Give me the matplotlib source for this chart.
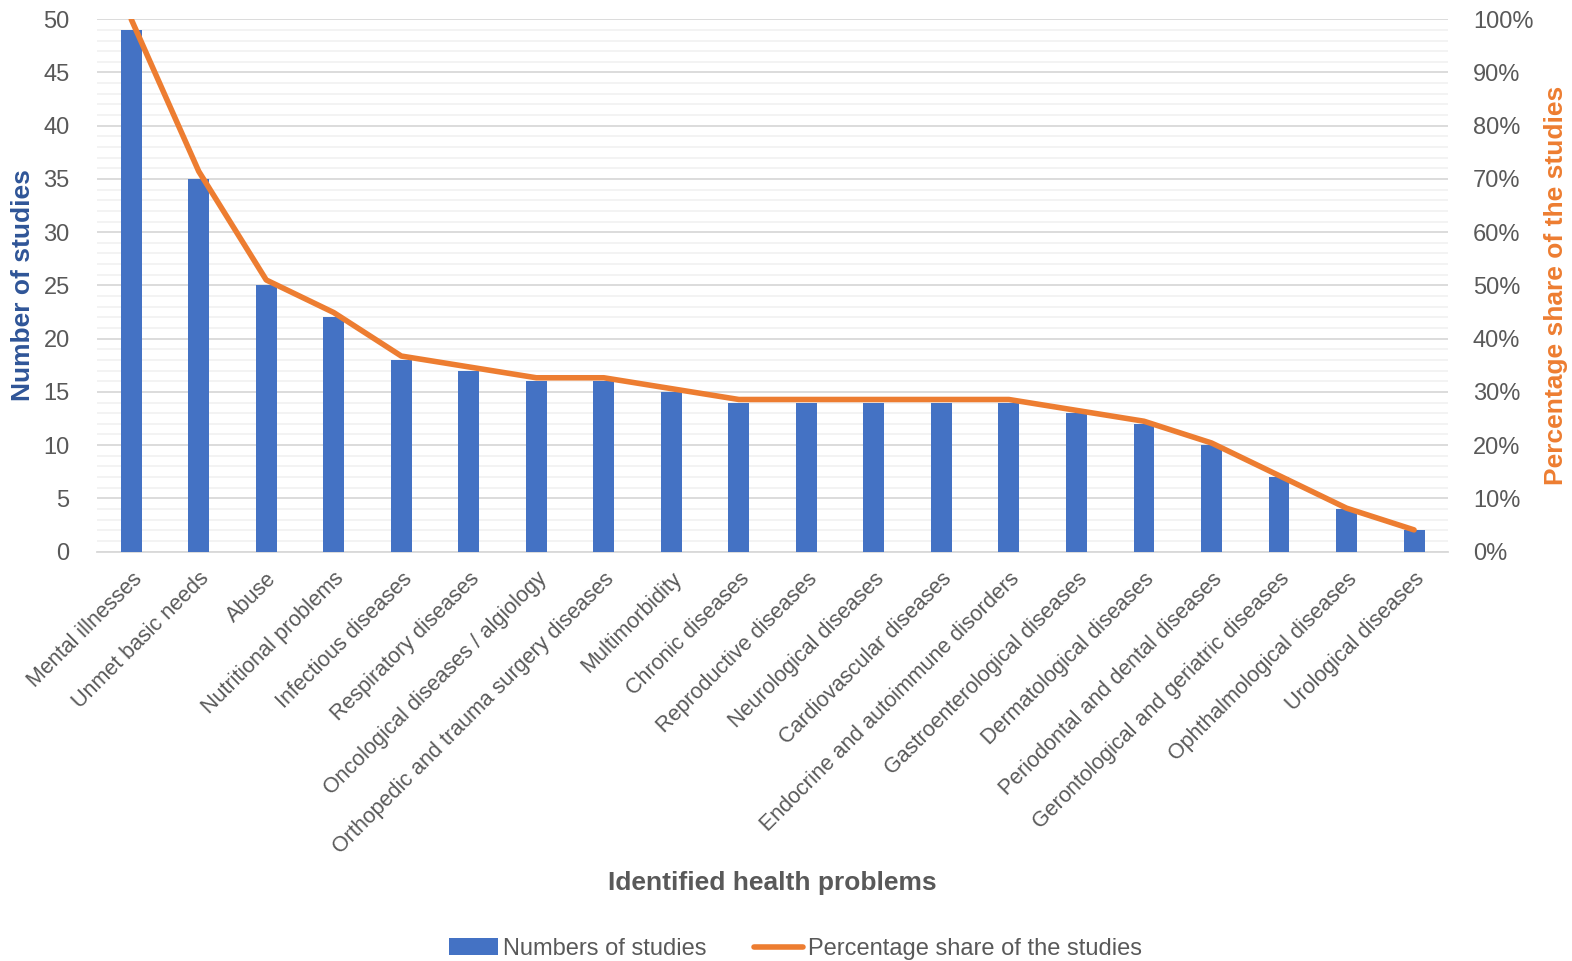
import matplotlib.pyplot as plt
from matplotlib.ticker import MultipleLocator, PercentFormatter

plt.rcParams['font.family'] = ['Liberation Sans', 'DejaVu Sans']

problems = [
    "Mental illnesses", "Unmet basic needs", "Abuse", "Nutritional problems",
    "Infectious diseases", "Respiratory diseases",
    "Oncological diseases / algiology",
    "Orthopedic and trauma surgery diseases", "Multimorbidity",
    "Chronic diseases", "Reproductive diseases", "Neurological diseases",
    "Cardiovascular diseases", "Endocrine and autoimmune disorders",
    "Gastroenterological diseases", "Dermatological diseases",
    "Periodontal and dental diseases", "Gerontological and geriatric diseases",
    "Ophthalmological diseases", "Urological diseases",
]
studies = [49, 35, 25, 22, 18, 17, 16, 16, 15, 14, 14, 14, 14, 14, 13, 12, 10, 7, 4, 2]
# share relative to the most studied problem
share = [s / max(studies) * 100 for s in studies]

GRAY = "#595959"
BLUE = "#4472C4"
ORANGE = "#ED7D31"

fig, ax = plt.subplots(figsize=(15.72, 9.61), dpi=100)
fig.subplots_adjust(left=0.062, right=0.921, top=0.98, bottom=0.426)

x = range(len(problems))
bars = ax.bar(x, studies, width=0.31, color=BLUE, label="Numbers of studies", zorder=3)
ax.set_xlim(-0.5, len(problems) - 0.5)
ax.set_ylim(0, 50)
ax.yaxis.set_major_locator(MultipleLocator(5))
ax.yaxis.set_minor_locator(MultipleLocator(1))
ax.grid(axis="y", which="major", color="#D9D9D9", linewidth=1.3, zorder=0)
ax.grid(axis="y", which="minor", color="#F2F2F2", linewidth=1.3, zorder=0)
ax.tick_params(axis="y", which="both", length=0, labelsize=17, labelcolor=GRAY, pad=20)
ax.tick_params(axis="x", length=0, labelsize=15.5, labelcolor=GRAY, pad=12)
ax.set_xticks(list(x))
ax.set_xticklabels(problems, rotation=45, ha="right", rotation_mode="anchor")
for side in ["top", "left", "right"]:
    ax.spines[side].set_visible(False)
ax.spines["bottom"].set_color("#D9D9D9")
ax.spines["bottom"].set_linewidth(1.3)
ax.set_ylabel("Number of studies", fontsize=19, fontweight="bold", color="#2F5597", labelpad=6)
ax.set_xlabel("Identified health problems", fontsize=19, fontweight="bold", color=GRAY, labelpad=10)

ax2 = ax.twinx()
line, = ax2.plot(x, share, color=ORANGE, linewidth=4, solid_capstyle="round",
                 label="Percentage share of the studies", zorder=4)
ax2.set_ylim(0, 100)
ax2.yaxis.set_major_locator(MultipleLocator(10))
ax2.yaxis.set_major_formatter(PercentFormatter(decimals=0))
ax2.tick_params(axis="y", length=0, labelsize=17, labelcolor=GRAY, pad=18)
for side in ["top", "left", "right", "bottom"]:
    ax2.spines[side].set_visible(False)
ax2.set_ylabel("Percentage share of the studies", fontsize=19, fontweight="bold", color=ORANGE, labelpad=8)

fig.legend(handles=[bars, line], loc="lower center", bbox_to_anchor=(0.506, -0.021),
           ncol=2, frameon=False, fontsize=17, labelcolor=GRAY,
           handlelength=2.1, handletextpad=0.2, columnspacing=2.0)

fig.savefig("out.png", dpi=100)
